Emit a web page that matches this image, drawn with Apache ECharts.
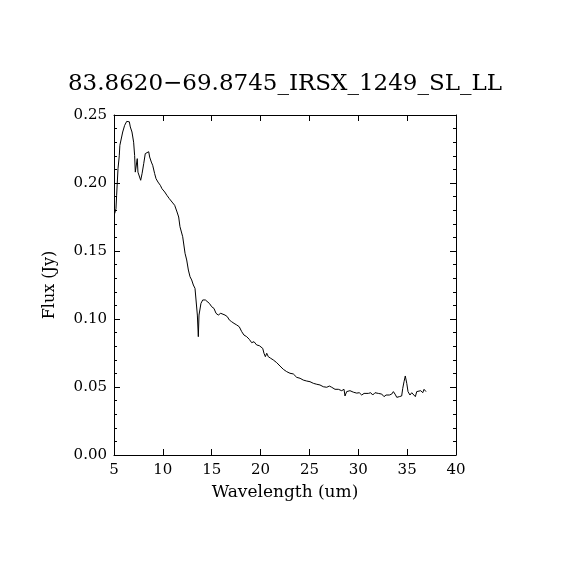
<!DOCTYPE html>
<html>
<head>
<meta charset="utf-8">
<script src="https://cdn.jsdelivr.net/npm/echarts@6/dist/echarts.min.js"></script>
<style>
  html, body { margin: 0; padding: 0; background: #fff; }
  #main { width: 570px; height: 570px; }
</style>
</head>
<body>
<div id="main"></div>
<script>
var titleText = '83.8620\u221269.8745_IRSX_1249_SL_LL';

// wavelength (um) and flux (Jy)
var wavelength = [
    5.07, 5.20, 5.27, 5.41, 5.54, 5.60, 5.75, 5.89, 6.09, 6.30, 6.43, 6.57, 6.67, 6.84,
    7.01, 7.11, 7.18, 7.32, 7.38, 7.45, 7.59, 7.73, 7.87, 8.04, 8.20, 8.38, 8.55, 8.65,
    8.82, 8.96, 9.16, 9.30, 9.50, 9.74, 9.91, 10.19, 10.42, 10.66, 10.94, 11.21, 11.45, 11.62,
    11.75, 12.03, 12.27, 12.44, 12.61, 12.78, 12.95, 13.12, 13.29, 13.46, 13.53, 13.63, 13.70, 13.80,
    13.90, 14.08, 14.21, 14.35, 14.55, 14.76, 15.00, 15.23, 15.44, 15.67, 15.92, 16.12, 16.36, 16.60,
    16.80, 17.04, 17.28, 17.56, 17.82, 18.07, 18.30, 18.58, 18.85, 19.09, 19.33, 19.60, 19.87, 20.01,
    20.22, 20.35, 20.49, 20.63, 20.79, 21.04, 21.30, 21.65, 21.99, 22.33, 22.67, 23.01, 23.35, 23.70,
    24.04, 24.37, 24.72, 25.06, 25.40, 25.75, 26.08, 26.42, 26.77, 27.04, 27.28, 27.62, 27.96, 28.30,
    28.54, 28.64, 28.81, 29.15, 29.49, 29.84, 30.10, 30.35, 30.59, 30.79, 31.03, 31.27, 31.48, 31.71,
    32.05, 32.40, 32.63, 32.84, 33.18, 33.42, 33.59, 33.76, 33.94, 34.20, 34.44, 34.55, 34.68, 34.81,
    34.96, 35.09, 35.29, 35.47, 35.63, 35.84, 35.98, 36.15, 36.39, 36.60, 36.73, 36.93
];
var flux = [
    0.1775, 0.181, 0.191, 0.2105, 0.220, 0.2277, 0.229, 0.2375, 0.2424, 0.2453, 0.2443, 0.245, 0.2412, 0.2375,
    0.230, 0.2203, 0.208, 0.2068, 0.2179, 0.208, 0.2093, 0.202, 0.2068, 0.2142, 0.2216, 0.2228, 0.223, 0.2191,
    0.2154, 0.213, 0.2069, 0.2032, 0.2007, 0.1983, 0.1958, 0.1934, 0.1909, 0.1885, 0.186, 0.1836, 0.1787, 0.175,
    0.1679, 0.1605, 0.1483, 0.1434, 0.136, 0.1311, 0.1287, 0.125, 0.1225, 0.1213, 0.1029, 0.087, 0.1029, 0.1017,
    0.1115, 0.114, 0.1152, 0.114, 0.114, 0.1115, 0.109, 0.1078, 0.1042, 0.1029, 0.1042, 0.1029, 0.1029, 0.1017,
    0.0993, 0.098, 0.0968, 0.0956, 0.0943, 0.0907, 0.0882, 0.087, 0.085, 0.0826, 0.0833, 0.0809, 0.0804, 0.0809,
    0.0784, 0.0748, 0.0723, 0.0748, 0.0723, 0.0711, 0.0699, 0.0679, 0.0654, 0.063, 0.0613, 0.0601, 0.0596, 0.0571,
    0.0564, 0.0551, 0.0544, 0.0539, 0.0527, 0.052, 0.0515, 0.0502, 0.0498, 0.0507, 0.0498, 0.0483, 0.0483, 0.0473,
    0.0483, 0.0434, 0.0466, 0.0473, 0.0462, 0.0455, 0.0458, 0.0441, 0.0453, 0.0441, 0.0453, 0.0458, 0.0441, 0.0458,
    0.0453, 0.0448, 0.0429, 0.0441, 0.0441, 0.0448, 0.0466, 0.0448, 0.0424, 0.0429, 0.0434, 0.049, 0.0539, 0.0581,
    0.0527, 0.0466, 0.0441, 0.0458, 0.0453, 0.0429, 0.0466, 0.0453, 0.0473, 0.0458, 0.0483, 0.0466
];

var xTicks = { min: 5, max: 40, step: 5 };
var yTicks = { min: 0, max: 0.25, step: 0.05 };

var seriesData = [];
for (var i = 0; i < wavelength.length; i++) {
    seriesData.push([wavelength[i], flux[i]]);
}

var font = 'DejaVu Serif';
var black = '#000';

function xAxisOpt(pos, showLabel) {
    return {
        type: 'value',
        position: pos,
        min: xTicks.min, max: xTicks.max, interval: xTicks.step,
        axisLine: { show: true, onZero: false, lineStyle: { color: black, width: 1 } },
        axisTick: { show: true, inside: true, length: 6, lineStyle: { color: black } },
        axisLabel: { show: showLabel, color: black, fontFamily: font, fontSize: 15, margin: 8 },
        splitLine: { show: false },
        name: showLabel ? 'Wavelength (um)' : '',
        nameLocation: 'middle',
        nameGap: 29,
        nameTextStyle: { color: black, fontFamily: font, fontSize: 17 }
    };
}

function yAxisOpt(pos, showLabel) {
    return {
        type: 'value',
        position: pos,
        min: yTicks.min, max: yTicks.max, interval: yTicks.step,
        axisLine: { show: true, onZero: false, lineStyle: { color: black, width: 1 } },
        axisTick: { show: true, inside: true, length: 6, lineStyle: { color: black } },
        minorTick: { show: true, splitNumber: 5, length: 3, lineStyle: { color: black } },
        axisLabel: {
            show: showLabel, color: black, fontFamily: font, fontSize: 15, margin: 7,
            formatter: function (v) { return v.toFixed(2); }
        },
        splitLine: { show: false },
        name: showLabel ? 'Flux (Jy)' : '',
        nameLocation: 'middle',
        nameGap: 56,
        nameTextStyle: { color: black, fontFamily: font, fontSize: 16 }
    };
}

var myChart = echarts.init(document.getElementById('main'));
var option = {
    backgroundColor: '#ffffff',
    animation: false,
    title: {
        text: titleText,
        left: 'center',
        top: 68,
        textStyle: { color: black, fontFamily: font, fontSize: 23, fontWeight: 'normal' }
    },
    grid: { left: 114, right: 114, top: 115, bottom: 115, containLabel: false },
    xAxis: [xAxisOpt('bottom', true), xAxisOpt('top', false)],
    yAxis: [yAxisOpt('left', true), yAxisOpt('right', false)],
    series: [{
        type: 'line',
        data: seriesData,
        showSymbol: false,
        symbol: 'none',
        lineStyle: { color: black, width: 1 },
        itemStyle: { color: black }
    }]
};
myChart.setOption(option);
</script>
</body>
</html>
